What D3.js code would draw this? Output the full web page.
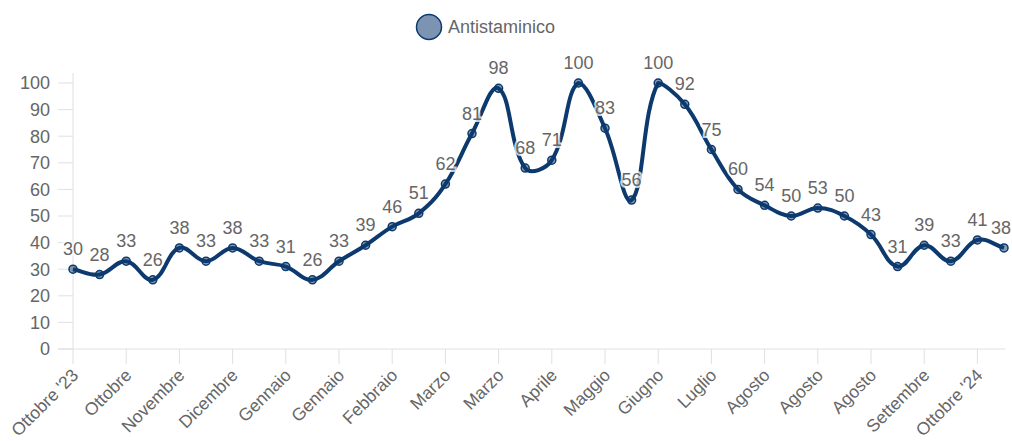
<!DOCTYPE html>
<html><head><meta charset="utf-8">
<script src="https://cdn.jsdelivr.net/npm/d3@7"></script>
<style>body{margin:0;background:#fff}svg{display:block}text{font-family:"Liberation Sans",Arial,sans-serif}</style>
</head><body><svg id="c" width="1012" height="441"></svg>
<script>
const values=[30,28,33,26,38,33,38,33,31,26,33,39,46,51,62,81,98,68,71,100,83,56,100,92,75,60,54,50,53,50,43,31,39,33,41,38];
const tickLabels=["Ottobre '23","Ottobre","Novembre","Dicembre","Gennaio","Gennaio","Febbraio","Marzo","Marzo","Aprile","Maggio","Giugno","Luglio","Agosto","Agosto","Agosto","Settembre","Ottobre '24"];
const yTicks=[0,10,20,30,40,50,60,70,80,90,100];
const seriesName="Antistaminico";

const svg=d3.select("#c");
const x=d3.scaleLinear().domain([0,values.length-1]).range([73,1004]);
const y=d3.scaleLinear().domain([0,100]).range([349,83]);
const grid="#e0e0e0", txt="#666";
const navy="#0d3a6e";

// y axis
const ya=svg.append("g");
ya.append("line").attr("x1",73).attr("x2",73).attr("y1",83-10).attr("y2",349).attr("stroke",grid);
yTicks.forEach(t=>{
  ya.append("line").attr("x1",58).attr("x2",73).attr("y1",y(t)).attr("y2",y(t)).attr("stroke",grid);
  ya.append("text").attr("x",50).attr("y",y(t)).attr("dy","0.35em").attr("text-anchor","end").attr("font-size",18).attr("fill",txt).text(t);
});
// x axis
const xa=svg.append("g");
xa.append("line").attr("x1",58).attr("x2",1005).attr("y1",349).attr("y2",349).attr("stroke",grid);
tickLabels.forEach((l,i)=>{
  const xi=x(i*2);
  xa.append("line").attr("x1",xi).attr("x2",xi).attr("y1",349).attr("y2",364).attr("stroke",grid);
  xa.append("text").attr("transform",`translate(${xi+2},${372}) rotate(-45)`).attr("text-anchor","end").attr("dy","0.35em").attr("font-size",17.5).attr("fill",txt).text(l);
});

// Chart.js-style spline (tension 0.4, control points capped to chart area)
const pts=values.map((v,i)=>[x(i),y(v)]);
const T=0.4, L=x.range()[0], R=x.range()[1], TOP=y.range()[1], BOT=y.range()[0];
const cap=(p)=>[Math.max(L,Math.min(R,p[0])),Math.max(TOP,Math.min(BOT,p[1]))];
const cps=pts.map((c,i)=>{
  const p=pts[i-1]||c, n=pts[i+1]||c;
  const d01=Math.hypot(c[0]-p[0],c[1]-p[1]), d12=Math.hypot(n[0]-c[0],n[1]-c[1]);
  let s01=d01/(d01+d12), s12=d12/(d01+d12);
  if(isNaN(s01))s01=0; if(isNaN(s12))s12=0;
  const fa=T*s01, fb=T*s12;
  return {prev:cap([c[0]-fa*(n[0]-p[0]),c[1]-fa*(n[1]-p[1])]), next:cap([c[0]+fb*(n[0]-p[0]),c[1]+fb*(n[1]-p[1])])};
});
const path=d3.path();
path.moveTo(pts[0][0],pts[0][1]);
for(let i=1;i<pts.length;i++){
  const a=cps[i-1].next,b=cps[i].prev;
  path.bezierCurveTo(a[0],a[1],b[0],b[1],pts[i][0],pts[i][1]);
}
svg.append("path").attr("d",path.toString()).attr("fill","none").attr("stroke",navy).attr("stroke-width",4).attr("stroke-linejoin","round");
svg.selectAll("circle.pt").data(values).enter().append("circle").attr("class","pt")
  .attr("cx",(d,i)=>x(i)).attr("cy",d=>y(d)).attr("r",4).attr("fill","rgba(13,58,110,0.5)").attr("stroke",navy).attr("stroke-width",1.5);

// labels
svg.selectAll("text.lbl").data(values).enter().append("text").attr("class","lbl")
  .attr("x",(d,i)=>x(i)).attr("y",d=>y(d)-14).attr("text-anchor","middle").attr("font-size",18)
  .attr("fill",txt).attr("stroke","rgba(255,255,255,0.75)").attr("stroke-width",4).attr("paint-order","stroke").text(d=>d)
  .each(function(){
    const b=this.getBBox();
    if(b.x+b.width>1011){d3.select(this).attr("x",+d3.select(this).attr("x")-(b.x+b.width-1011));}
  });

// legend
svg.append("circle").attr("cx",429).attr("cy",27).attr("r",12.5).attr("fill","#7d93b2").attr("stroke",navy).attr("stroke-width",1.5);
svg.append("text").attr("x",448).attr("y",27).attr("dy","0.35em").attr("font-size",18).attr("fill",txt).text(seriesName);
</script></body></html>
